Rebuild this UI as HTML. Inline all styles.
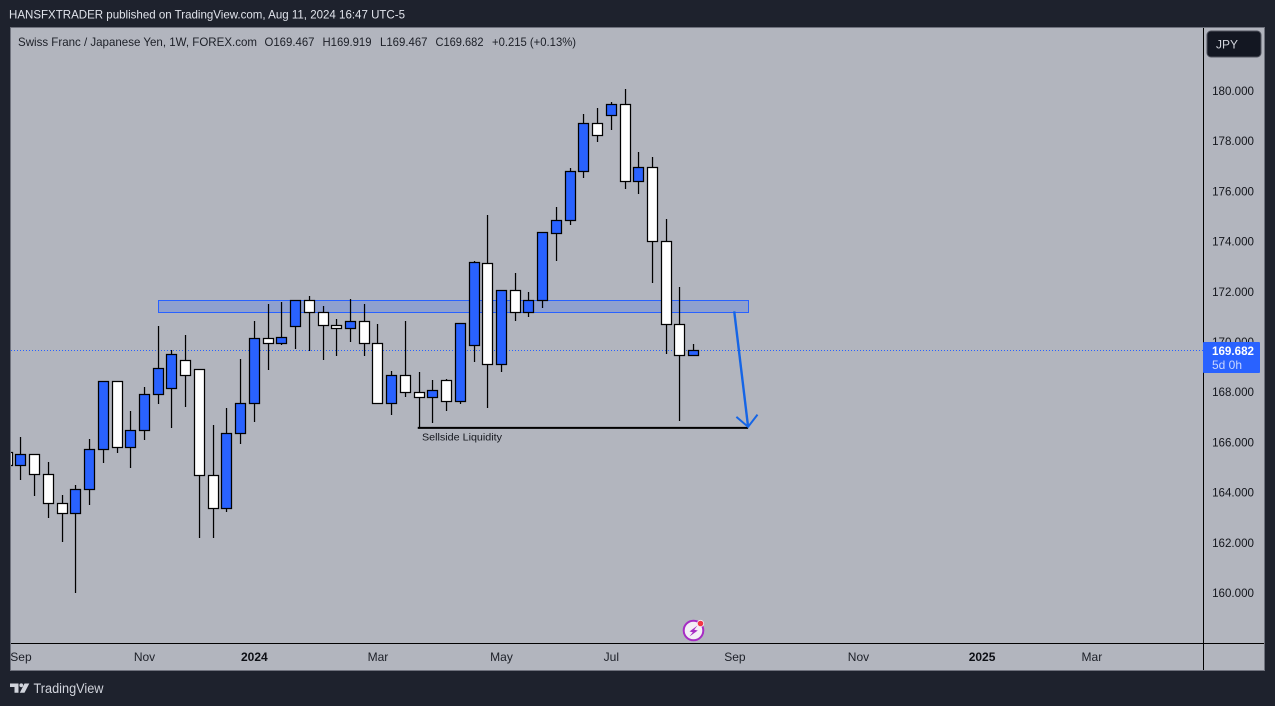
<!DOCTYPE html>
<html lang="en">
<head>
<meta charset="utf-8">
<title>CHF/JPY weekly chart</title>
<style>
html,body{margin:0;padding:0;background:#1e222d;width:1275px;height:706px;overflow:hidden}
svg{display:block;font-family:"Liberation Sans",Arial,sans-serif}
</style>
</head>
<body>
<svg id="chart" xmlns="http://www.w3.org/2000/svg" width="1275" height="706" viewBox="0 0 1275 706">
  <rect x="0" y="0" width="1275" height="706" fill="#1e222d"/>
  <text x="9" y="18.5" font-size="12" fill="#e0e3eb" textLength="396" lengthAdjust="spacingAndGlyphs">HANSFXTRADER published on TradingView.com, Aug 11, 2024 16:47 UTC-5</text>
  <rect x="10.5" y="27.5" width="1254" height="643" fill="#b2b5be" stroke="#6f727d" stroke-width="1.4" shape-rendering="crispEdges"/>
  <defs>
    <clipPath id="plot-clip"><rect x="11" y="28" width="1192" height="615"/></clipPath>
  </defs>
  <g id="annotations-back" clip-path="url(#plot-clip)"></g>
  <g id="price-line-layer" clip-path="url(#plot-clip)"></g>
  <g id="candles" clip-path="url(#plot-clip)"></g>
  <g id="annotations-front" clip-path="url(#plot-clip)"></g>
  <line x1="1203.5" y1="28" x2="1203.5" y2="670" stroke="#000" stroke-width="1" shape-rendering="crispEdges"/>
  <line x1="11" y1="643.5" x2="1264" y2="643.5" stroke="#000" stroke-width="1" shape-rendering="crispEdges"/>
  <g id="price-axis"></g>
  <g id="time-axis"></g>

  <g font-size="12" fill="#1c1f27">
    <text x="18" y="46" textLength="239" lengthAdjust="spacingAndGlyphs">Swiss Franc / Japanese Yen, 1W, FOREX.com</text>
    <text x="264.5" y="46" textLength="50" lengthAdjust="spacingAndGlyphs">O169.467</text>
    <text x="322.5" y="46" textLength="49" lengthAdjust="spacingAndGlyphs">H169.919</text>
    <text x="380" y="46" textLength="47.5" lengthAdjust="spacingAndGlyphs">L169.467</text>
    <text x="435.5" y="46" textLength="48" lengthAdjust="spacingAndGlyphs">C169.682</text>
    <text x="492" y="46" textLength="84" lengthAdjust="spacingAndGlyphs">+0.215 (+0.13%)</text>
  </g>

  <g>
    <rect x="1207" y="31" width="54" height="26" rx="4" fill="#131722" stroke="#50535e" stroke-width="1"/>
    <text x="1216" y="48.5" font-size="12" fill="#d1d4dc">JPY</text>
  </g>

  <g>
    <rect x="1203" y="342" width="57" height="31" rx="1" fill="#2962ff"/>
    <text x="1212" y="355" font-size="12" font-weight="bold" fill="#ffffff" textLength="42" lengthAdjust="spacingAndGlyphs">169.682</text>
    <text x="1212" y="369" font-size="12" fill="#c9d6ff" textLength="30" lengthAdjust="spacingAndGlyphs">5d 0h</text>
  </g>

  <g>
    <circle cx="693.5" cy="630.5" r="9.8" fill="#f4eef6" stroke="#a62cc4" stroke-width="2"/>
    <polygon points="697.5,625.5 689.5,631.5 692.8,632.2 689.5,636.5 697.8,630.5 694.2,629.8" fill="#a62cc4"/>
    <circle cx="700.5" cy="623.5" r="3.2" fill="#f23645" stroke="#f4eef6" stroke-width="0.8"/>
  </g>

  <g>
    <polygon points="10,683.5 18.5,683.5 18.5,692.7 14.5,692.7 14.5,687 10,687" fill="#d1d4dc"/>
    <circle cx="21.3" cy="685.3" r="1.9" fill="#d1d4dc"/>
    <polygon points="24.5,683.5 29.3,683.5 24.5,692.7 19.8,692.7" fill="#d1d4dc"/>
    <text x="33.5" y="693" font-size="13.5" fill="#d1d4dc" textLength="70" lengthAdjust="spacingAndGlyphs">TradingView</text>
  </g>
</svg>

<script>
const barIndexes = [-1,0,1,2,3,4,5,6,7,8,9,10,11,12,13,14,15,16,17,18,19,20,21,22,23,24,25,26,27,28,29,30,31,32,33,34,35,36,37,38,39,40,41,42,43,44,45,46,47,48,49];
const openPrices = [165.58,165.07,165.51,164.71,163.55,163.16,164.11,165.71,168.41,165.79,166.46,167.90,168.14,169.25,168.89,164.67,163.35,166.34,167.54,170.11,169.93,170.61,171.63,171.16,170.65,170.53,170.81,169.93,167.54,168.65,167.98,167.78,168.45,167.62,169.85,173.12,169.09,172.04,171.16,171.64,174.31,174.83,176.78,178.69,179.01,179.45,176.38,176.94,173.99,170.69,169.45];
const highPrices = [165.70,166.18,165.51,165.19,163.87,164.28,166.10,168.41,168.41,167.22,168.18,170.58,169.66,170.22,168.89,166.66,167.34,169.30,170.81,171.49,171.56,171.63,171.81,171.40,170.88,171.68,171.49,170.69,168.81,170.81,168.77,168.45,168.49,170.73,173.20,175.03,172.04,172.72,171.96,174.35,175.35,176.90,179.05,179.29,179.53,180.05,177.54,177.34,174.87,172.16,169.88];
const lowPrices = [165.07,164.49,163.86,162.98,162.02,159.99,163.50,165.17,165.57,164.97,166.09,167.52,166.57,167.40,162.18,162.18,163.22,165.93,166.81,168.88,169.87,169.74,169.66,169.27,169.43,169.99,169.43,167.54,167.08,167.80,166.58,166.76,167.24,167.52,169.20,167.36,168.80,170.83,170.99,171.35,173.22,174.65,176.53,177.98,178.44,176.09,175.89,172.34,169.51,166.84,169.45];
const closePrices = [165.07,165.49,164.71,163.55,163.16,164.11,165.71,168.41,165.79,166.46,167.90,168.93,169.49,168.65,164.67,163.35,166.34,167.54,170.13,169.93,170.17,171.63,171.16,170.65,170.51,170.81,169.93,167.54,168.65,167.98,167.78,168.06,167.62,170.73,173.16,169.09,172.04,171.16,171.64,174.35,174.83,176.78,178.69,178.22,179.45,176.38,176.94,173.99,170.69,169.45,169.66];
const priceTicks = [160,162,164,166,168,170,172,174,176,178,180];
const priceTickLabels = ["160.000","162.000","164.000","166.000","168.000","170.000","172.000","174.000","176.000","178.000","180.000"];
const timeTickBars = [0,9,17,26,35,43,52,61,70,78];
const timeTickLabels = ["Sep","Nov","2024","Mar","May","Jul","Sep","Nov","2025","Mar"];
const timeTickMajor = [false,false,true,false,false,false,false,false,true,false];
const lastPrice = 169.66;
const zoneBars = [10,52.96];
const zonePrices = [171.63,171.16];
const liquidityBars = [28.9,52.96];
const liquidityPrice = 166.56;
const arrowBars = [51.95,52.96];
const arrowPrices = [171.2,166.6];

const NS = 'http://www.w3.org/2000/svg';
function xScale(bar){ return 20.95 + 13.73 * bar; }
function yScale(price){ return 90.5 + (180 - price) * 25.1; }
function node(tag, attrs, parent){
  const el = document.createElementNS(NS, tag);
  for (const k in attrs) el.setAttribute(k, attrs[k]);
  parent.appendChild(el);
  return el;
}

const candleLayer = document.getElementById('candles');
barIndexes.forEach(function(bar, i){
  const col = Math.floor(xScale(bar));
  const up = closePrices[i] >= openPrices[i];
  const bodyTop = Math.floor(yScale(Math.max(openPrices[i], closePrices[i])));
  const bodyBottom = Math.floor(yScale(Math.min(openPrices[i], closePrices[i])));
  const wickTop = Math.floor(yScale(highPrices[i]));
  const wickBottom = Math.floor(yScale(lowPrices[i]));
  const wick = node('rect', {x: col - 0.1, y: wickTop, width: 1.25, height: Math.max(1, wickBottom - wickTop + 1), fill: '#000000'}, candleLayer);
  
  
  const body = node('rect', {x: col - 4.5, y: bodyTop + 0.5, width: 10, height: Math.max(1, bodyBottom - bodyTop), fill: up ? '#2962ff' : '#ffffff', stroke: '#000000', 'stroke-width': 1.25}, candleLayer);
  
  
});

const back = document.getElementById('annotations-back');
const zoneTop = Math.floor(yScale(zonePrices[0])) + 0.5;
const zoneBottom = Math.floor(yScale(zonePrices[1])) + 0.5;
const zoneLeft = Math.floor(xScale(zoneBars[0])) + 0.5;
const zoneRight = Math.floor(xScale(zoneBars[1])) + 0.5;
const zone = node('rect', {x: zoneLeft, y: zoneTop, width: zoneRight - zoneLeft, height: zoneBottom - zoneTop, fill: 'rgba(41,98,255,0.25)', stroke: '#2962ff', 'stroke-width': 1, 'shape-rendering': 'crispEdges'}, back);



const priceLayer = document.getElementById('price-line-layer');
const lastY = Math.floor(yScale(lastPrice)) + 0.5;
const priceLine = node('line', {x1: 11, x2: 1203, y1: lastY, y2: lastY, stroke: '#2962ff', 'stroke-width': 1, 'stroke-dasharray': '1 2', 'shape-rendering': 'crispEdges'}, priceLayer);



const front = document.getElementById('annotations-front');
const liqY = yScale(liquidityPrice);
const liqLine = node('line', {x1: xScale(liquidityBars[0]), x2: xScale(liquidityBars[1]), y1: liqY, y2: liqY, stroke: '#000000', 'stroke-width': 2}, front);


const liqText = node('text', {x: 422, y: liqY + 12.5, 'font-size': 10.5, fill: '#14161c', textLength: 80, lengthAdjust: 'spacingAndGlyphs'}, front);


liqText.textContent = 'Sellside Liquidity';

const ax1 = xScale(arrowBars[0]), ay1 = yScale(arrowPrices[0]);
const ax2 = xScale(arrowBars[1]), ay2 = yScale(arrowPrices[1]);
const arrowShaft = node('line', {x1: ax1, y1: ay1, x2: ax2, y2: ay2, stroke: '#1565e6', 'stroke-width': 2.4}, front);


const arrowHead = node('polyline', {points: (ax2 - 11.7) + ',' + (ay2 - 10) + ' ' + ax2 + ',' + ay2 + ' ' + (ax2 + 9.4) + ',' + (ay2 - 12.2), fill: 'none', stroke: '#1565e6', 'stroke-width': 2}, front);



const priceAxis = document.getElementById('price-axis');
priceTicks.forEach(function(p, i){
  const t = node('text', {x: 1254, y: yScale(p) + 4.5, 'text-anchor': 'end', 'font-size': 11.6, fill: '#14161c'}, priceAxis);
  
  
  t.textContent = priceTickLabels[i];
});

const timeAxis = document.getElementById('time-axis');
timeTickBars.forEach(function(bar, i){
  const major = timeTickMajor[i];
  const t = node('text', {x: Math.max(xScale(bar), 20.5), y: 661, 'text-anchor': 'middle', 'font-size': 12, fill: major ? '#0c0e14' : '#1c1f27', 'font-weight': major ? 'bold' : 'normal'}, timeAxis);
  
  
  t.textContent = timeTickLabels[i];
});
</script>
</body>
</html>
